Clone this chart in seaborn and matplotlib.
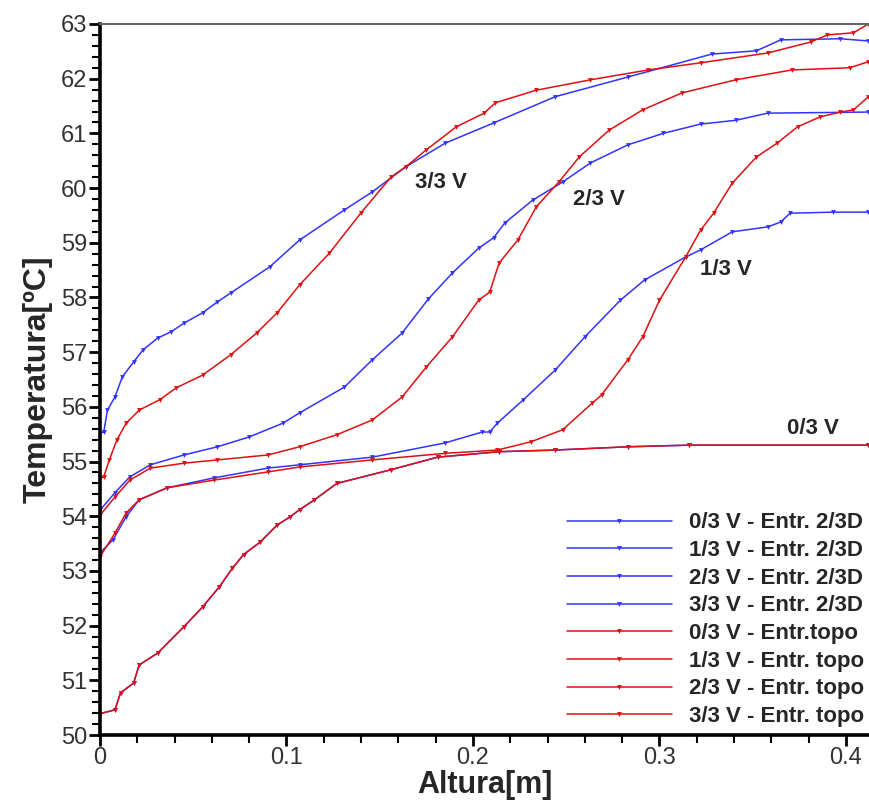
import matplotlib
matplotlib.use("Agg")
import matplotlib.pyplot as plt
import seaborn as sns
from matplotlib.ticker import MultipleLocator, FuncFormatter

# ---- data (Altura [m], Temperatura [ºC]) ----
# entrada 2/3D (azul)
alt_b33 = [0, .002, .004, .008, .012, .018, .023, .031, .038, .045, .055, .063, .070, .091, .107,
           .131, .146, .164, .185, .211, .244, .283, .328, .352, .365, .397, .412]
tmp_b33 = [55.52, 55.54, 55.94, 56.18, 56.55, 56.82, 57.04, 57.26, 57.37, 57.53, 57.72, 57.92, 58.08, 58.56, 59.05,
           59.6, 59.93, 60.39, 60.82, 61.19, 61.67, 62.03, 62.45, 62.51, 62.71, 62.73, 62.69]

alt_b23 = [0, .008, .016, .027, .045, .063, .080, .098, .107, .131, .146, .162, .176, .189, .203,
           .211, .217, .232, .248, .263, .283, .302, .322, .341, .358, .412]
tmp_b23 = [54.11, 54.43, 54.72, 54.94, 55.12, 55.27, 55.45, 55.7, 55.89, 56.36, 56.86, 57.35, 57.97, 58.45, 58.9,
           59.09, 59.36, 59.78, 60.11, 60.46, 60.79, 61.0, 61.17, 61.24, 61.37, 61.39]

alt_b13 = [0, .007, .014, .021, .036, .061, .090, .107, .146, .185, .205, .209, .213, .227, .244,
           .260, .279, .292, .314, .322, .339, .358, .365, .370, .393, .412]
tmp_b13 = [53.33, 53.57, 53.99, 54.3, 54.52, 54.7, 54.88, 54.94, 55.08, 55.34, 55.54, 55.54, 55.7, 56.13, 56.67,
           57.28, 57.95, 58.32, 58.74, 58.87, 59.2, 59.29, 59.38, 59.54, 59.56, 59.56]

# entrada topo (vermelho)
alt_r33 = [0, .002, .005, .009, .014, .021, .032, .041, .055, .070, .084, .095, .107, .123, .140,
           .156, .164, .175, .191, .206, .212, .234, .263, .294, .322, .358, .381, .390, .404, .412]
tmp_r33 = [54.7, 54.72, 55.03, 55.39, 55.7, 55.94, 56.13, 56.35, 56.58, 56.95, 57.35, 57.72, 58.23, 58.81, 59.55,
           60.2, 60.39, 60.7, 61.12, 61.37, 61.56, 61.79, 61.98, 62.16, 62.29, 62.47, 62.67, 62.8, 62.84, 63.0]

alt_r23 = [0, .008, .016, .027, .045, .063, .090, .107, .127, .146, .162, .175, .189, .203, .209,
           .214, .224, .234, .246, .257, .273, .291, .312, .341, .371, .402, .412]
tmp_r23 = [54.02, 54.35, 54.66, 54.88, 54.97, 55.03, 55.12, 55.27, 55.49, 55.76, 56.18, 56.73, 57.28, 57.95, 58.1,
           58.63, 59.05, 59.66, 60.11, 60.57, 61.06, 61.43, 61.74, 61.98, 62.16, 62.2, 62.31]

alt_r13 = [0, .008, .014, .021, .036, .061, .090, .107, .146, .185, .213, .231, .248, .264, .269,
           .283, .291, .300, .314, .322, .329, .339, .352, .363, .374, .386, .397, .404, .412]
tmp_r13 = [53.26, 53.69, 54.06, 54.3, 54.52, 54.66, 54.81, 54.9, 55.03, 55.15, 55.21, 55.36, 55.58, 56.07, 56.22,
           56.86, 57.28, 57.95, 58.74, 59.23, 59.54, 60.09, 60.57, 60.82, 61.12, 61.3, 61.39, 61.43, 61.67]

alt_r03 = [0, .008, .011, .018, .021, .031, .045, .055, .064, .071, .077, .086, .095, .102, .107,
           .115, .127, .156, .181, .214, .244, .283, .316, .412]
tmp_r03 = [50.39, 50.46, 50.77, 50.95, 51.28, 51.5, 51.98, 52.34, 52.71, 53.05, 53.3, 53.53, 53.84, 53.99, 54.12,
           54.3, 54.6, 54.85, 55.08, 55.18, 55.21, 55.27, 55.3, 55.3]

# 0/3 V with entrada 2/3D lies under the topo curve
alt_b03 = alt_r03
tmp_b03 = tmp_r03

azul = "#3333ff"
vermelho = "#dd1111"

series = [
    ("0/3 V - Entr. 2/3D", alt_b03, tmp_b03, azul),
    ("1/3 V - Entr. 2/3D", alt_b13, tmp_b13, azul),
    ("2/3 V - Entr. 2/3D", alt_b23, tmp_b23, azul),
    ("3/3 V - Entr. 2/3D", alt_b33, tmp_b33, azul),
    ("0/3 V - Entr.topo", alt_r03, tmp_r03, vermelho),
    ("1/3 V - Entr. topo", alt_r13, tmp_r13, vermelho),
    ("2/3 V - Entr. topo", alt_r23, tmp_r23, vermelho),
    ("3/3 V - Entr. topo", alt_r33, tmp_r33, vermelho),
]

curve_labels = ["3/3 V", "2/3 V", "1/3 V", "0/3 V"]
label_x = [0.183, 0.2676, 0.3357, 0.3823]
label_y = [60.11, 59.8, 58.52, 55.6]

sns.set_style("ticks")
plt.rcParams["font.family"] = ["Liberation Sans", "DejaVu Sans"]

fig = plt.figure(figsize=(8.7, 8.0), dpi=100)
ax = fig.add_axes([100 / 870, 65 / 800, 769 / 870, 711 / 800])

for name, x, y, c in series:
    sns.lineplot(x=x, y=y, color=c, marker="v", markersize=3.5, markeredgewidth=0,
                 linewidth=1.1, label=name, sort=False, estimator=None, ax=ax)

for t, x, y in zip(curve_labels, label_x, label_y):
    ax.text(x, y, t, ha="center", va="center", fontsize=16, fontweight="bold")

ax.set_xlim(0, 769 / 1865)
ax.set_ylim(50, 63)
ax.xaxis.set_major_locator(MultipleLocator(0.1))
ax.xaxis.set_minor_locator(MultipleLocator(0.02))
ax.yaxis.set_major_locator(MultipleLocator(1))
ax.yaxis.set_minor_locator(MultipleLocator(0.2))
ax.xaxis.set_major_formatter(FuncFormatter(lambda v, p: "0" if abs(v) < 1e-9 else f"{v:g}"))

ax.tick_params(which="major", direction="out", length=8, width=2, labelsize=17,
               pad=1, color="black", labelcolor="#333333")
ax.tick_params(which="minor", direction="out", length=6, width=1.5, color="black")

for s in ["left", "bottom"]:
    ax.spines[s].set_linewidth(2.6)
    ax.spines[s].set_color("black")
ax.spines["top"].set_linewidth(1.5)
ax.spines["top"].set_color("#666666")
ax.spines["right"].set_visible(False)

ax.set_xlabel("Altura[m]", fontsize=22, fontweight="bold", labelpad=0)
ax.set_ylabel("Temperatura[ºC]", fontsize=23, fontweight="bold", labelpad=6)

ax.legend(loc="lower right", bbox_to_anchor=(1.0, 0.005), frameon=False,
          prop={"weight": "bold", "size": 16}, handlelength=4.7, handletextpad=0.8,
          labelspacing=0.3, borderaxespad=0, borderpad=0.2)

fig.savefig("out.png", dpi=100)
